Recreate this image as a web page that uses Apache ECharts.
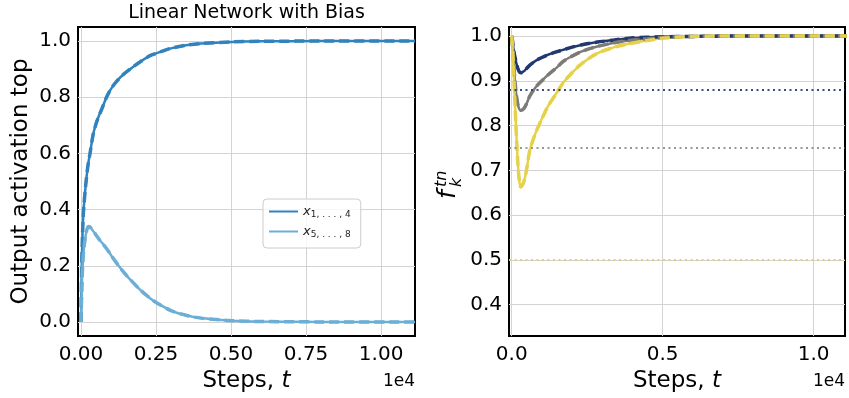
<!DOCTYPE html>
<html>
<head>
<meta charset="utf-8">
<script src="https://cdn.jsdelivr.net/npm/echarts@6/dist/echarts.min.js"></script>
<style>
  html, body { margin: 0; padding: 0; background: #fff; }
  #chart { width: 849px; height: 398px; }
</style>
</head>
<body>
<div id="chart"></div>
<script>
// ---- Left panel: output activations of the linear network with bias ----
const stepsLeft = [0, 25, 50, 75, 100, 150, 200, 250, 300, 400, 500, 600, 700, 850, 1000, 1200, 1400, 1633, 2000, 2300, 2500, 3000, 3500, 4000, 5000, 6000, 8000, 11130];
const xTop  = [0, 0.2, 0.31, 0.38, 0.42, 0.48, 0.53, 0.57, 0.6, 0.665, 0.705, 0.735, 0.76, 0.8, 0.83, 0.858, 0.88, 0.9, 0.928, 0.948, 0.956, 0.974, 0.985, 0.991, 0.997, 0.999, 1.0, 1.0];
const xRest = [0, 0.11, 0.19, 0.235, 0.265, 0.305, 0.33, 0.34, 0.338, 0.325, 0.31, 0.295, 0.282, 0.262, 0.238, 0.208, 0.18, 0.152, 0.112, 0.085, 0.07, 0.041, 0.024, 0.014, 0.005, 0.002, 0.0005, 0];
const legendNames = ['x1,...,4', 'x5,...,8'];
const leftXTicks = [0, 2500, 5000, 7500, 10000];
const leftYTicks = [0, 0.2, 0.4, 0.6, 0.8, 1.0];

// ---- Right panel: f_k^tn for three tasks, with their chance levels ----
const stepsRight = [0, 25, 50, 100, 150, 200, 250, 300, 400, 500, 600, 800, 1000, 1200, 1500, 1700, 2000, 2300, 2800, 3400, 3900, 4500, 5000, 6000, 8000, 11100];
const fBlue   = [1.0, 0.99, 0.975, 0.955, 0.94, 0.928, 0.92, 0.918, 0.921, 0.928, 0.935, 0.945, 0.952, 0.958, 0.965, 0.969, 0.975, 0.98, 0.986, 0.991, 0.995, 0.997, 0.998, 0.999, 1.0, 1.0];
const fGray   = [1.0, 0.98, 0.955, 0.905, 0.87, 0.848, 0.837, 0.834, 0.838, 0.85, 0.866, 0.886, 0.9, 0.913, 0.93, 0.943, 0.955, 0.965, 0.976, 0.985, 0.99, 0.994, 0.997, 0.999, 1.0, 1.0];
const fYellow = [1.0, 0.975, 0.94, 0.86, 0.785, 0.72, 0.678, 0.663, 0.674, 0.705, 0.745, 0.785, 0.815, 0.843, 0.874, 0.895, 0.918, 0.937, 0.96, 0.975, 0.983, 0.99, 0.995, 0.999, 1.0, 1.0];
const chanceLevels = [0.875, 0.75, 0.5];
const rightXTicks = [0, 5000, 10000];
const rightYTicks = [0.4, 0.5, 0.6, 0.7, 0.8, 0.9, 1.0];

const FONT = 'DejaVu Sans';
const leftColors = ['#3182bd', '#6baed6'];
const rightColors = ['#22396f', '#7c7b78', '#e6d14a'];
const levelColors = ['#22396f', '#8c8c8c', '#dccb78'];

const pair = (xs, ys) => xs.map((x, i) => [x, ys[i]]);

function axisCommon(ticks, fmt, margin) {
  return {
    axisLine: { show: false },
    axisTick: { show: false, customValues: ticks },
    axisLabel: { customValues: ticks, formatter: fmt, fontFamily: FONT, fontSize: 20, color: '#000', margin: margin },
    splitLine: { show: true, lineStyle: { color: '#d3d3d3', width: 1 } }
  };
}

function curve(name, data, color, xi, yi) {
  return [
    { name: name, type: 'line', xAxisIndex: xi, yAxisIndex: yi, data: data, symbol: 'none', smooth: 0.3,
      lineStyle: { color: color, width: 2.5 }, itemStyle: { color: color }, z: 3 },
    { name: name + '-dash', type: 'line', xAxisIndex: xi, yAxisIndex: yi, data: data, symbol: 'none', smooth: 0.3,
      lineStyle: { color: color, width: 3.5, type: [10, 5] }, itemStyle: { color: color }, z: 4 }
  ];
}

const series = [];
series.push(...curve(legendNames[0], pair(stepsLeft, xTop), leftColors[0], 0, 0));
series.push(...curve(legendNames[1], pair(stepsLeft, xRest), leftColors[1], 0, 0));

// chance levels as dotted reference lines
series.push({
  type: 'line', xAxisIndex: 1, yAxisIndex: 1, data: [], silent: true,
  markLine: {
    silent: true, symbol: 'none', label: { show: false },
    data: chanceLevels.map((v, i) => ({ yAxis: v, lineStyle: { color: levelColors[i], width: 2, type: [2, 3.5], opacity: 0.9 } }))
  }
});
series.push(...curve('blue', pair(stepsRight, fBlue), rightColors[0], 1, 1));
series.push(...curve('gray', pair(stepsRight, fGray), rightColors[1], 1, 1));
series.push(...curve('yellow', pair(stepsRight, fYellow), rightColors[2], 1, 1));

const stepsName = {
  name: '{a|Steps, }{b|t}',
  nameLocation: 'middle',
  nameGap: 33,
  nameTextStyle: {
    rich: {
      a: { fontFamily: FONT, fontSize: 23, color: '#000' },
      b: { fontFamily: FONT, fontSize: 23, fontStyle: 'italic', color: '#000' }
    }
  }
};

const option = {
  animation: false,
  backgroundColor: '#fff',
  grid: [
    { left: 78, top: 27, width: 337, height: 315, show: true, borderColor: '#000', borderWidth: 2, backgroundColor: 'transparent' },
    { left: 509, top: 27, width: 336, height: 315, show: true, borderColor: '#000', borderWidth: 2, backgroundColor: 'transparent' }
  ],
  xAxis: [
    Object.assign({ type: 'value', gridIndex: 0, min: -100, max: 11130 }, axisCommon(leftXTicks, v => (v / 1e4).toFixed(2), 9), stepsName),
    Object.assign({ type: 'value', gridIndex: 1, min: -90, max: 11040 }, axisCommon(rightXTicks, v => (v / 1e4).toFixed(1), 9), stepsName)
  ],
  yAxis: [
    Object.assign({ type: 'value', gridIndex: 0, min: -0.05, max: 1.05,
      name: 'Output activation top', nameLocation: 'middle', nameRotate: 90, nameGap: 45,
      nameTextStyle: { fontFamily: FONT, fontSize: 23, color: '#000' } },
      axisCommon(leftYTicks, v => v.toFixed(1), 7)),
    Object.assign({ type: 'value', gridIndex: 1, min: 0.33, max: 1.02 },
      axisCommon(rightYTicks, v => v.toFixed(1), 7))
  ],
  legend: {
    data: legendNames,
    left: 263, top: 199,
    orient: 'vertical',
    padding: [6, 10, 9, 6],
    itemWidth: 29, itemHeight: 10, itemGap: 6,
    icon: 'path://M0,4L29,4L29,6L0,6Z',
    borderColor: '#cccccc', borderWidth: 1, borderRadius: 4,
    backgroundColor: 'rgba(255,255,255,0.8)',
    formatter: n => n === legendNames[0] ? '{i|x}{s|1, . . . , 4}' : '{i|x}{s|5, . . . , 8}',
    textStyle: {
      rich: {
        i: { fontFamily: FONT, fontSize: 13, fontStyle: 'italic', color: '#222' },
        s: { fontFamily: FONT, fontSize: 9, color: '#222', padding: [6, 0, 0, 0] }
      }
    }
  },
  graphic: [
    { type: 'text', x: 246.5, y: 13, style: { text: 'Linear Network with Bias', font: '19px "DejaVu Sans"', fill: '#000', textAlign: 'center', textVerticalAlign: 'middle' } },
    { type: 'text', x: 415, y: 382, style: { text: '1e4', font: '17px "DejaVu Sans"', fill: '#000', textAlign: 'right', textVerticalAlign: 'middle' } },
    { type: 'text', x: 845, y: 382, style: { text: '1e4', font: '17px "DejaVu Sans"', fill: '#000', textAlign: 'right', textVerticalAlign: 'middle' } },
    {
      type: 'group', x: 461, y: 199, rotation: Math.PI / 2,
      children: [
        { type: 'text', x: 0, y: 0, style: { text: 'f', font: 'italic 25px "DejaVu Sans"', fill: '#000', textVerticalAlign: 'bottom' } },
        { type: 'text', x: 12, y: -11, style: { text: 'tn', font: 'italic 16px "DejaVu Sans"', fill: '#000', textVerticalAlign: 'bottom' } },
        { type: 'text', x: 12, y: 4, style: { text: 'k', font: 'italic 16px "DejaVu Sans"', fill: '#000', textVerticalAlign: 'bottom' } }
      ]
    }
  ],
  series: series
};

const chart = echarts.init(document.getElementById('chart'), null, { renderer: 'canvas' });
chart.setOption(option);
</script>
</body>
</html>
